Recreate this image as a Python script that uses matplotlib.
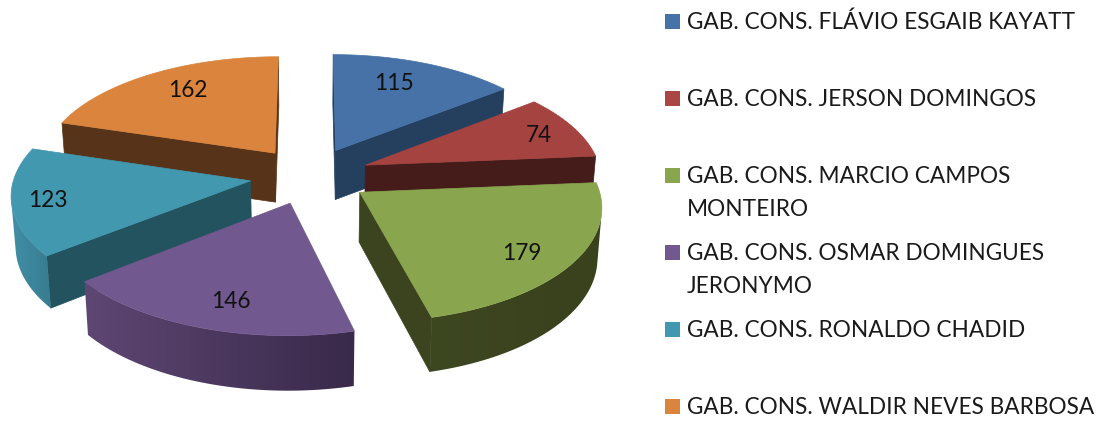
#! /usr/bin/env python3
# -*- coding: utf-8 -*-
import numpy as np
import matplotlib
matplotlib.use('Agg')
import matplotlib.pyplot as plt
from matplotlib.patches import Polygon, Rectangle
from matplotlib.colors import to_rgb

legend_labels = [
    'GAB. CONS. FLÁVIO ESGAIB KAYATT',
    'GAB. CONS. JERSON DOMINGOS',
    'GAB. CONS. MARCIO CAMPOS\nMONTEIRO',
    'GAB. CONS. OSMAR DOMINGUES\nJERONYMO',
    'GAB. CONS. RONALDO CHADID',
    'GAB. CONS. WALDIR NEVES BARBOSA',
]
values = [115, 74, 179, 146, 123, 162]

top_colors = ['#4672A8', '#A54340', '#89A54E', '#71588F', '#4198AF', '#DB843D']
legend_colors = ['#4572A7', '#AA4643', '#89A54E', '#71588F', '#4198AF', '#DB843D']
radial_colors = ['#253F5E', '#451C1A', '#3B441F', '#3A2C4A', '#23535F', '#573419']
outer_left = ['#253F5E', '#451C1A', '#3D4720', '#5E4773', '#418FA6', '#573419']
outer_right = ['#253F5E', '#451C1A', '#39411D', '#39294A', '#377C90', '#573419']
label_radius = [0.64, 0.76, 0.86, 0.85, 0.88, 0.67]
label_offset = [(-1, -9), (15, 0), (-19, 0), (15, -6), (7, 1), (-2, -8)]
draw_order = [0, 5, 1, 4, 3, 2]

legend_y = [29, 106, 183, 260, 337, 414]
line_step = 33

# projection of the pie plane to picture pixels
cx, cy = 310.0, 175.5
rx, ry = 236.0, 111.5
persp = 0.109
explode = 0.255
depth = 49.0
font = 'Lato'
font_size = 16.3


def project(u, v, z=0.0):
    w = 1 - persp * v
    x = cx + rx * u / w * (1 - 0.015 * z)
    y = cy + ry * v / w
    return x, y + z * depth * (1 + 0.1 * max(v, 0))


def slice_points(a0, a1, mid, r=1.0, n=80):
    angles = np.linspace(a0, a1, n)
    ox, oy = np.sin(mid) * explode, -np.cos(mid) * explode
    return [(ox + r * np.sin(a), oy - r * np.cos(a)) for a in angles], (ox, oy)


def area(pts):
    pts = np.array(pts)
    x, y = pts[:, 0], pts[:, 1]
    return 0.5 * np.sum(x * np.roll(y, -1) - np.roll(x, -1) * y)


fig = plt.figure(figsize=(11.02, 4.21), dpi=100)
ax = fig.add_axes([0, 0, 1, 1])

total = float(sum(values))
edges = np.concatenate([[0], np.cumsum(values)]) / total * 2 * np.pi

for rank, i in enumerate(draw_order):
    a0, a1 = edges[i], edges[i + 1]
    mid = (a0 + a1) / 2
    arc, apex = slice_points(a0, a1, mid)

    # side walls, only those that look at the viewer
    for p, q in [(apex, arc[0]), (arc[-1], apex)]:
        quad = [project(*p), project(*q), project(*q, 1), project(*p, 1)]
        if area(quad) < 0:
            ax.add_patch(Polygon(quad, closed=True, fc=radial_colors[i], ec=radial_colors[i], lw=0.5, zorder=rank))

    # outer wall, gradient in x clipped to the visible run of the arc
    run = []
    for j in range(len(arc) - 1):
        quad = [project(*arc[j]), project(*arc[j + 1]), project(*arc[j + 1], 1), project(*arc[j], 1)]
        if area(quad) < 0:
            run.extend([j, j + 1])
    if run:
        idx = sorted(set(run))
        wall = [project(*arc[j]) for j in idx] + [project(*arc[j], 1) for j in idx[::-1]]
        wall_x = [p[0] for p in wall]
        wall_y = [p[1] for p in wall]
        ramp = np.linspace(to_rgb(outer_left[i]), to_rgb(outer_right[i]), 256)[np.newaxis, :, :]
        im = ax.imshow(ramp, extent=(min(wall_x), max(wall_x), max(wall_y), min(wall_y)),
                       aspect='auto', interpolation='bilinear', zorder=rank)
        patch = Polygon(wall, closed=True, fc='none', ec='none', transform=ax.transData)
        ax.add_patch(patch)
        im.set_clip_path(patch)

    top = [project(*apex)] + [project(*p) for p in arc]
    ax.add_patch(Polygon(top, closed=True, fc=top_colors[i], ec=top_colors[i], lw=0.5, zorder=rank + 0.5))

    ox, oy = apex
    lx, ly = project(ox + label_radius[i] * np.sin(mid), oy - label_radius[i] * np.cos(mid))
    ax.text(lx + label_offset[i][0], ly + label_offset[i][1], str(values[i]), ha='center', va='center',
            family=font, fontsize=font_size, color='#111111', zorder=20)

for label, col, y in zip(legend_labels, legend_colors, legend_y):
    ax.add_patch(Rectangle((665, y - 15), 15, 15, fc=col, ec='none'))
    for k, line in enumerate(label.split('\n')):
        ax.text(687, y + k * line_step, line, ha='left', va='baseline', family=font,
                fontsize=font_size, color='#1A1A1A')

ax.set_xlim(0, 1102)
ax.set_ylim(421, 0)
ax.axis('off')

fig.savefig('out.png', dpi=100)
plt.close()
